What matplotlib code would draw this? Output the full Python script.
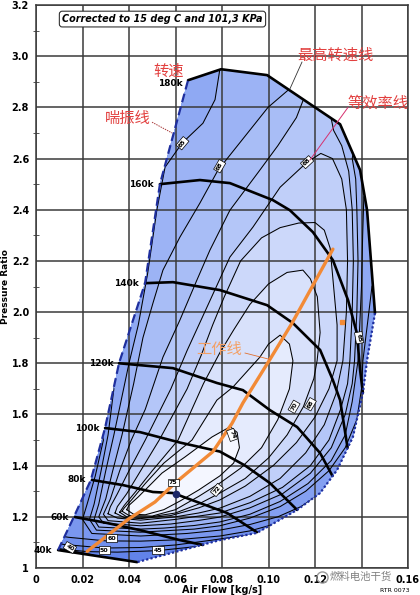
import matplotlib
matplotlib.use('Agg')
import matplotlib.pyplot as plt
from matplotlib.patches import Polygon
from matplotlib.ticker import MultipleLocator

plt.rcParams['font.family'] = ['DejaVu Sans', 'Noto Sans CJK SC']

# Map outline (air flow [kg/s], pressure ratio) #
surge_line = [(0.0095, 1.07), (0.0163, 1.20), (0.0236, 1.344), (0.0297, 1.547), (0.0357, 1.80),
              (0.0469, 2.113), (0.0533, 2.50), (0.0654, 2.906)]
top_line = [(0.0654, 2.906), (0.0796, 2.949), (0.0994, 2.926), (0.1308, 2.734), (0.1394, 2.555),
            (0.1424, 2.398), (0.1458, 1.996)]
choke_line = [(0.1458, 1.996), (0.1424, 1.8125), (0.1406, 1.684), (0.1363, 1.512), (0.1295, 1.383),
              (0.1222, 1.293), (0.1123, 1.227), (0.095, 1.137), (0.0791, 1.109), (0.0435, 1.023)]

# Speed lines #
speed_names = ['40k', '60k', '80k', '100k', '120k', '140k', '160k', '180k']
spd_40k = [(0.0095, 1.07), (0.0435, 1.023)]
spd_60k = [(0.0168, 1.199), (0.0305, 1.176), (0.0447, 1.148), (0.0619, 1.109), (0.0718, 1.09)]
spd_80k = [(0.0241, 1.344), (0.0374, 1.324), (0.0503, 1.297), (0.0589, 1.293), (0.0705, 1.254),
           (0.0822, 1.215), (0.095, 1.14)]
spd_100k = [(0.0297, 1.547), (0.0447, 1.531), (0.062, 1.49), (0.0791, 1.455), (0.090, 1.40),
            (0.1006, 1.332), (0.1123, 1.227)]
spd_120k = [(0.0357, 1.80), (0.0589, 1.781), (0.0778, 1.723), (0.089, 1.695), (0.1006, 1.617),
            (0.1123, 1.551), (0.1222, 1.449), (0.1275, 1.36)]
spd_140k = [(0.0469, 2.113), (0.0589, 2.117), (0.0791, 2.086), (0.0994, 2.027), (0.1105, 1.957),
            (0.1222, 1.852), (0.1277, 1.734), (0.1308, 1.656), (0.134, 1.47)]
spd_160k = [(0.0533, 2.50), (0.0705, 2.516), (0.0834, 2.504), (0.1019, 2.4375), (0.1092, 2.398),
            (0.1191, 2.3125), (0.1277, 2.203), (0.1342, 2.047), (0.138, 1.918), (0.1394, 1.773),
            (0.1406, 1.684)]
spd_180k = top_line

# Efficiency contours, outer to inner #
eff_u40 = [(0.0, 1.09), (0.011, 1.071), (0.018, 1.063), (0.024, 1.052), (0.03, 1.03), (0.035, 1.0)]
eff_u45 = [(0.0, 1.09), (0.012, 1.073), (0.022, 1.064), (0.035, 1.062), (0.0525, 1.068), (0.065, 1.08),
           (0.08, 1.095)]
eff_u50 = [(0.0, 1.11), (0.012, 1.092), (0.0294, 1.078), (0.045, 1.08), (0.06, 1.09), (0.075, 1.108),
           (0.088, 1.125), (0.1, 1.135)]
eff_u55 = [(0.0, 1.14), (0.014, 1.12), (0.03, 1.106), (0.045, 1.105), (0.06, 1.11), (0.0791, 1.125),
           (0.092, 1.145), (0.102, 1.17), (0.112, 1.205), (0.12, 1.25)]
eff_u60 = [(0.025, 1.65), (0.029, 1.50), (0.0255, 1.36), (0.022, 1.25), (0.020, 1.19), (0.024, 1.135),
           (0.045, 1.125), (0.065, 1.135), (0.0791, 1.148), (0.092, 1.17), (0.104, 1.20), (0.114, 1.24),
           (0.124, 1.30), (0.132, 1.38), (0.14, 1.48)]
eff_u62 = [(0.030, 1.80), (0.0335, 1.70), (0.031, 1.52), (0.028, 1.38), (0.025, 1.25), (0.023, 1.19),
           (0.026, 1.148), (0.045, 1.14), (0.068, 1.152), (0.0791, 1.165), (0.092, 1.195), (0.105, 1.24),
           (0.116, 1.30), (0.126, 1.38), (0.133, 1.47), (0.138, 1.58), (0.140, 1.70), (0.1406, 1.81),
           (0.1425, 1.95), (0.1445, 2.10), (0.15, 2.2)]
eff_u65 = [(0.075, 3.1), (0.0791, 2.95), (0.077, 2.83), (0.0718, 2.738), (0.0628, 2.66), (0.0555, 2.566),
           (0.052, 2.40), (0.048, 2.15), (0.044, 1.95), (0.040, 1.80), (0.0335, 1.52), (0.030, 1.38),
           (0.027, 1.25), (0.025, 1.19), (0.027, 1.16), (0.045, 1.152), (0.055, 1.156), (0.068, 1.166),
           (0.0791, 1.18), (0.092, 1.21), (0.105, 1.26), (0.117, 1.33), (0.127, 1.42), (0.133, 1.52),
           (0.136, 1.65), (0.1385, 1.81), (0.139, 1.90), (0.140, 2.1), (0.1405, 2.3), (0.141, 2.45),
           (0.145, 2.5)]
eff_u66 = [(0.112, 2.95), (0.1084, 2.867), (0.0998, 2.80), (0.0783, 2.555), (0.0705, 2.426), (0.0619, 2.293),
           (0.0546, 2.164), (0.0503, 2.035), (0.046, 1.90), (0.042, 1.72), (0.037, 1.52), (0.033, 1.38),
           (0.030, 1.27), (0.027, 1.20), (0.029, 1.175), (0.045, 1.165), (0.058, 1.172), (0.07, 1.186),
           (0.0791, 1.199), (0.092, 1.235), (0.106, 1.29), (0.118, 1.37), (0.127, 1.47), (0.133, 1.60),
           (0.136, 1.72), (0.137, 1.81), (0.138, 2.0), (0.1385, 2.2), (0.138, 2.40), (0.1375, 2.52),
           (0.136, 2.60), (0.138, 2.70)]
eff_u67 = [(0.118, 2.90), (0.112, 2.76), (0.104, 2.65), (0.0963, 2.555), (0.0834, 2.398), (0.0748, 2.242),
           (0.0692, 2.125), (0.0619, 1.969), (0.0546, 1.824), (0.047, 1.62), (0.041, 1.50), (0.036, 1.38),
           (0.032, 1.27), (0.029, 1.21), (0.031, 1.185), (0.045, 1.175), (0.06, 1.19), (0.07, 1.203),
           (0.0791, 1.215), (0.092, 1.255), (0.106, 1.315), (0.118, 1.40), (0.126, 1.50), (0.131, 1.62),
           (0.134, 1.72), (0.135, 1.81), (0.136, 2.0), (0.1365, 2.2), (0.136, 2.40), (0.1345, 2.55),
           (0.1315, 2.65), (0.128, 2.71), (0.126, 2.80)]
eff_l68 = [(0.031, 1.212), (0.035, 1.195), (0.045, 1.187), (0.06, 1.20), (0.07, 1.215), (0.0791, 1.234),
           (0.092, 1.28), (0.105, 1.35), (0.116, 1.45), (0.124, 1.56), (0.129, 1.68), (0.132, 1.81),
           (0.1335, 2.0), (0.134, 2.2), (0.1335, 2.40), (0.1315, 2.52), (0.1275, 2.60), (0.1225, 2.62),
           (0.1166, 2.586), (0.105, 2.488), (0.0933, 2.332), (0.0834, 2.215), (0.0775, 2.098),
           (0.071, 1.969), (0.065, 1.85), (0.058, 1.70), (0.047, 1.50), (0.040, 1.38), (0.035, 1.29),
           (0.032, 1.24)]
eff_l70 = [(0.034, 1.215), (0.038, 1.197), (0.045, 1.193), (0.058, 1.205), (0.07, 1.235), (0.0791, 1.266),
           (0.09, 1.32), (0.102, 1.40), (0.112, 1.49), (0.12, 1.59), (0.126, 1.70), (0.1295, 1.81),
           (0.1295, 1.95), (0.128, 2.10), (0.1265, 2.25), (0.124, 2.32), (0.12, 2.35), (0.113, 2.348),
           (0.105, 2.33), (0.097, 2.29), (0.088, 2.20), (0.081, 2.06), (0.076, 1.95), (0.071, 1.83),
           (0.065, 1.70), (0.053, 1.50), (0.045, 1.38), (0.039, 1.29), (0.035, 1.24)]
eff_l71 = [(0.036, 1.218), (0.039, 1.20), (0.048, 1.198), (0.06, 1.215), (0.07, 1.25), (0.0791, 1.293),
           (0.09, 1.35), (0.10, 1.43), (0.108, 1.52), (0.115, 1.63), (0.1195, 1.74), (0.1209, 1.81),
           (0.1222, 1.92), (0.121, 2.06), (0.118, 2.13), (0.1148, 2.164), (0.108, 2.155), (0.100, 2.11),
           (0.092, 2.03), (0.085, 1.93), (0.079, 1.84), (0.072, 1.72), (0.0611, 1.50), (0.05, 1.38),
           (0.043, 1.30), (0.038, 1.245)]
eff_l72 = [(0.037, 1.222), (0.040, 1.205), (0.05, 1.203), (0.06, 1.228), (0.07, 1.28), (0.0791, 1.332),
           (0.088, 1.39), (0.097, 1.47), (0.104, 1.58), (0.109, 1.70), (0.1105, 1.81), (0.109, 1.875),
           (0.105, 1.91), (0.100, 1.875), (0.0963, 1.824), (0.0847, 1.707), (0.0778, 1.656), (0.0671, 1.50),
           (0.055, 1.41), (0.047, 1.33), (0.041, 1.265), (0.038, 1.235)]
eff_l74 = [(0.039, 1.228), (0.042, 1.21), (0.047, 1.208), (0.055, 1.228), (0.062, 1.262), (0.07, 1.305),
           (0.0791, 1.36), (0.085, 1.41), (0.0875, 1.47), (0.0865, 1.53), (0.0835, 1.552), (0.0757, 1.512),
           (0.0641, 1.434), (0.0542, 1.371), (0.0439, 1.277), (0.040, 1.245)]

# Efficiency labels #
eff_label_text = ['65', '68', '68', '65', '70', '68', '74', '72', '75', '60', '50', '45', '40']
eff_label_x = [0.063, 0.079, 0.1166, 0.139, 0.111, 0.118, 0.0843, 0.0778, 0.059, 0.0325, 0.0294, 0.0525, 0.0146]
eff_label_y = [2.66, 2.57, 2.586, 1.90, 1.63, 1.64, 1.52, 1.305, 1.335, 1.117, 1.07, 1.07, 1.08]
eff_label_rot = [50, 60, 43, -80, 60, 60, -70, 50, 0, 0, 0, 0, -30]

# Operating line #
oper_line = [(0.022, 1.065), (0.0396, 1.19), (0.0512, 1.258), (0.0598, 1.332), (0.0761, 1.455),
             (0.0843, 1.565), (0.089, 1.645), (0.1006, 1.815), (0.110, 1.955), (0.1277, 2.246)]
design_point = (0.06, 1.29)
odd_point = (0.1316, 1.96)

x_ticks = [0, 0.02, 0.04, 0.06, 0.08, 0.10, 0.12, 0.14, 0.16]
# 0.14 sits under the watermark in the original, so it is left blank
x_tick_labels = ['0', '0.02', '0.04', '0.06', '0.08', '0.10', '0.12', '', '0.16']
y_ticks = [1.0, 1.2, 1.4, 1.6, 1.8, 2.0, 2.2, 2.4, 2.6, 2.8, 3.0, 3.2]
y_tick_labels = ['1', '1.2', '1.4', '1.6', '1.8', '2.0', '2.2', '2.4', '2.6', '2.8', '3.0', '3.2']

# Generate figure #
fig = plt.figure(figsize=(4.2, 5.95), dpi=100)
ax = fig.add_axes([36 / 420, 1 - 568 / 595, 372 / 420, 563 / 595])
ax.set_xlim(0, 0.16)
ax.set_ylim(1, 3.2)

band_colors = ['#5a7de6', '#6283e9', '#6989eb', '#7190ed', '#7a97ef', '#84a0f1', '#8fa9f3', '#9cb3f5',
               '#a8bdf6', '#b4c6f8', '#c0cff9', '#ccd8fa', '#d8e1fb', '#e5ebfd', '#f4f6ff']

outline = surge_line + top_line[1:] + choke_line[1:]
base = Polygon(outline, closed=True, facecolor=band_colors[0], edgecolor='none', zorder=1)
ax.add_patch(base)

contours = [(eff_u40, 'left'), (eff_u45, 'left'), (eff_u50, 'left'), (eff_u55, 'left'), (eff_u60, 'left'),
            (eff_u62, 'left'), (eff_u65, 'top'), (eff_u66, 'top'), (eff_u67, 'top'), (eff_l68, 'loop'),
            (eff_l70, 'loop'), (eff_l71, 'loop'), (eff_l72, 'loop'), (eff_l74, 'loop')]

for i, (pts, kind) in enumerate(contours):
    if kind == 'loop':
        poly = pts
        line_pts = pts + [pts[0]]
    elif kind == 'left':
        poly = pts + [(0.2, pts[-1][1]), (0.2, 3.5), (-0.05, 3.5), (-0.05, pts[0][1])]
        line_pts = pts
    else:
        poly = pts + [(0.2, pts[-1][1]), (0.2, 3.5), (pts[0][0], 3.5)]
        line_pts = pts
    p = Polygon(poly, closed=True, facecolor=band_colors[i + 1], edgecolor='none', zorder=1.1 + i * 0.01)
    ax.add_patch(p)
    p.set_clip_path(base)
    xs = [q[0] for q in line_pts]
    ys = [q[1] for q in line_pts]
    ln, = ax.plot(xs, ys, color='black', lw=0.75, zorder=3)
    ln.set_clip_path(base)

# Grid on top of the map #
ax.set_xticks(x_ticks)
ax.set_xticklabels(x_tick_labels)
ax.set_yticks(y_ticks)
ax.set_yticklabels(y_tick_labels)
ax.yaxis.set_minor_locator(MultipleLocator(0.1))
ax.set_axisbelow(False)
ax.grid(True, which='major', color='#3a3a3a', lw=1.1)
ax.tick_params(which='major', length=0, pad=5, labelsize=7)
ax.tick_params(which='minor', axis='y', length=4, direction='inout', color='#3a3a3a')
for lab in ax.get_xticklabels() + ax.get_yticklabels():
    lab.set_fontweight('bold')
for s in ax.spines.values():
    s.set_color('#3a3a3a')
    s.set_linewidth(1.1)

# Speed lines #
speed_lines = [spd_40k, spd_60k, spd_80k, spd_100k, spd_120k, spd_140k, spd_160k, spd_180k]
for name, pts in zip(speed_names, speed_lines):
    xs = [q[0] for q in pts]
    ys = [q[1] for q in pts]
    ln, = ax.plot(xs, ys, color='black', lw=1.9, zorder=3.5, solid_capstyle='round')
    dy = -0.012 if name == '180k' else 0.0
    ax.text(xs[0] - 0.0025, ys[0] + dy, name, ha='right', va='center', fontsize=6.5,
            fontweight='bold', zorder=6)

# Surge and choke #
ax.plot([q[0] for q in surge_line], [q[1] for q in surge_line], color='#1f2f9e', lw=1.6,
        ls=(0, (4, 2)), zorder=4)
ax.plot([q[0] for q in choke_line], [q[1] for q in choke_line], color='#1f2f9e', lw=1.6,
        ls=(0, (1, 1)), zorder=4)

# Efficiency labels #
for t, x, y, r in zip(eff_label_text, eff_label_x, eff_label_y, eff_label_rot):
    ax.text(x, y, t, ha='center', va='center', rotation=r, fontsize=4.5, fontweight='bold', zorder=6,
            bbox=dict(boxstyle='square,pad=0.2', fc='white', ec='black', lw=0.5))

# Operating line #
ax.plot([q[0] for q in oper_line], [q[1] for q in oper_line], color='#f28a36', lw=2.4, zorder=5,
        solid_capstyle='round')
ax.plot(*design_point, 'o', color='#1c2768', ms=4.5, zorder=5.5)
ax.plot(*odd_point, 's', color='#f28a36', ms=2.5, zorder=5.5)

# Title box #
ax.text(0.0544, 3.145, 'Corrected to 15 deg C and 101,3 KPa', ha='center', va='center', fontsize=6.9,
        fontweight='bold', fontstyle='italic', zorder=6,
        bbox=dict(boxstyle='round,pad=0.3', fc='white', ec='#333333', lw=0.8))

# Chinese annotations #
red = '#e2403f'
cjk = ['Noto Sans CJK SC', 'DejaVu Sans']
ax.text(0.0572, 2.941, '转速', ha='center', va='center', fontsize=11, color=red, family=cjk, zorder=7)
ax.text(0.0396, 2.758, '喘振线', ha='center', va='center', fontsize=11, color=red, family=cjk, zorder=7)
ax.text(0.1286, 3.004, '最高转速线', ha='center', va='center', fontsize=11, color=red, family=cjk, zorder=7)
ax.text(0.147, 2.816, '等效率线', ha='center', va='center', fontsize=11, color=red, family=cjk, zorder=7)
ax.text(0.0787, 1.852, '工作线', ha='center', va='center', fontsize=11, color='#f3a066', family=cjk,
        zorder=7)
ax.plot([0.0499, 0.0585], [2.742, 2.70], color='#a83a3a', lw=0.7, ls=(0, (1.5, 1)), zorder=7)
ax.plot([0.1144, 0.1092], [2.977, 2.872], color='#333333', lw=0.6, zorder=7)
ax.plot([0.1342, 0.1178], [2.80, 2.594], color='#d6306e', lw=0.7, zorder=7)
ax.plot([0.0899, 0.1006], [1.84, 1.815], color='#e07030', lw=0.6, zorder=7)

# Axis labels and marks #
fig.text(222 / 420, 1 - 590 / 595, 'Air Flow [kg/s]', ha='center', va='center', fontsize=7,
         fontweight='bold')
fig.text(6 / 420, 1 - 287 / 595, 'Pressure Ratio', ha='center', va='center', rotation=90, fontsize=6.5,
         fontweight='bold')
fig.text(395 / 420, 1 - 591 / 595, 'RTR 0073', ha='center', va='center', fontsize=4.5)
fig.text(361 / 420, 1 - 577 / 595, '燃料电池干货', ha='center', va='center', fontsize=7.5, color='#808080',
         family=cjk)
fig.lines.append(plt.Line2D([322 / 420], [1 - 577 / 595], marker='o', ms=8, mfc='none', mec='#9a9a9a',
                            mew=1.0, transform=fig.transFigure))

fig.savefig('out.png', dpi=100)
